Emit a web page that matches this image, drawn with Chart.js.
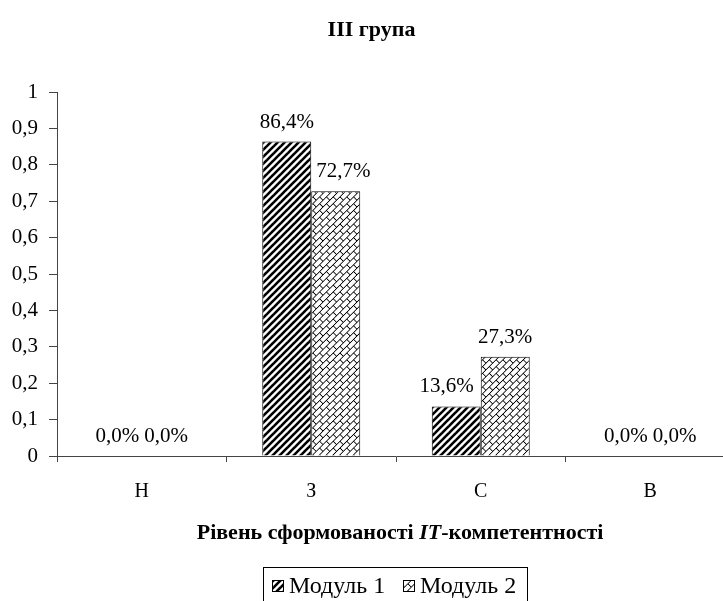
<!DOCTYPE html>
<html>
<head>
<meta charset="utf-8">
<script src="https://cdn.jsdelivr.net/npm/chart.js@4/dist/chart.umd.min.js"></script>
<style>
html,body{margin:0;padding:0;background:#fff;overflow:hidden;}
#wrap{width:723px;height:601px;overflow:hidden;position:relative;}
#c{position:absolute;left:0;top:0;}
</style>
</head>
<body>
<div id="wrap"><canvas id="c" width="745" height="601"></canvas></div>
<script>
const categories = ['Н', 'З', 'С', 'В'];
const module1 = [0.0, 0.864, 0.136, 0.0];
const module2 = [0.0, 0.727, 0.273, 0.0];
const seriesNames = ['Модуль 1', 'Модуль 2'];
const yTicks = [0, 0.1, 0.2, 0.3, 0.4, 0.5, 0.6, 0.7, 0.8, 0.9, 1];
const chartTitle = 'III група';
const axisTitleParts = [['Рівень сформованості ', 'bold'], ['IT', 'italic bold'], ['-компетентності', 'bold']];

const FONT = '"Liberation Serif", "Times New Roman", serif';

function hatchPattern(ctx) {
  const t = document.createElement('canvas');
  t.width = 7; t.height = 7;
  const g = t.getContext('2d');
  g.fillStyle = '#fff'; g.fillRect(0,0,7,7);
  g.strokeStyle = '#000'; g.lineWidth = 2.6;
  for (let k = -1; k <= 1; k++) {
    g.beginPath();
    g.moveTo(-1 + k*7, 8); g.lineTo(8 + k*7, -1);
    g.stroke();
  }
  return ctx.createPattern(t, 'repeat');
}
function brickPattern(ctx) {
  const t = document.createElement('canvas');
  t.width = 12; t.height = 12;
  const g = t.getContext('2d');
  g.fillStyle = '#fff'; g.fillRect(0,0,12,12);
  g.strokeStyle = '#000'; g.lineWidth = 1.1;
  g.beginPath();
  g.moveTo(0,0.5); g.lineTo(12,0.5);
  g.moveTo(0,6.5); g.lineTo(12,6.5);
  g.moveTo(0.5,0); g.lineTo(0.5,6.5);
  g.moveTo(6.5,6.5); g.lineTo(6.5,12);
  g.stroke();
  const p = ctx.createPattern(t, 'repeat');
  const m = new DOMMatrix();
  p.setTransform(m.rotateSelf(-45).scaleSelf(0.8,0.8));
  return p;
}

const canvas = document.getElementById('c');
const ctx = canvas.getContext('2d');
const pat1 = hatchPattern(ctx);
const pat2 = brickPattern(ctx);

const fmtPct = v => (v*100).toFixed(1).replace('.', ',') + '%';

const decor = {
  id: 'decor',
  afterDatasetsDraw(chart) {
    const c = chart.ctx;
    c.save();
    c.fillStyle = '#000';
    c.font = '21px ' + FONT;
    c.textBaseline = 'alphabetic';
    const metas = chart.data.datasets.map((ds, di) => chart.getDatasetMeta(di));
    chart.data.datasets.forEach((ds, di) => {
      metas[di].data.forEach((bar, i) => {
        const other = metas[1 - di].data[i];
        const txt = fmtPct(ds.data[i]);
        const half = bar.width / 2;
        // if the neighbouring bar is taller, push the label to the outer side of its own bar
        if (other && other.y < bar.y - 5) {
          if (di === 1) { c.textAlign = 'left'; c.fillText(txt, bar.x - half + 5, bar.y - 14); }
          else { c.textAlign = 'right'; c.fillText(txt, bar.x + half - 7, bar.y - 14); }
        } else {
          c.textAlign = 'center';
          c.fillText(txt, bar.x, bar.y - 14);
        }
      });
    });
    c.restore();
  },
  afterDraw(chart) {
    const c = chart.ctx;
    const ca = chart.chartArea;
    c.save();
    c.fillStyle = '#000';
    c.textBaseline = 'alphabetic';
    // title
    c.font = 'bold 22px ' + FONT;
    c.textAlign = 'center';
    c.fillText(chartTitle, chart.width / 2 - 1, 36);
    // axis title with mixed fonts
    c.textAlign = 'left';
    let total = 0;
    axisTitleParts.forEach(([s, f]) => { c.font = f + ' 22px ' + FONT; total += c.measureText(s).width; });
    let x = (ca.left + ca.right) / 2 + 4 - total / 2;
    axisTitleParts.forEach(([s, f]) => { c.font = f + ' 22px ' + FONT; c.fillText(s, x, 539); x += c.measureText(s).width; });
    // legend box
    c.strokeStyle = '#000';
    c.lineWidth = 1;
    c.strokeRect(263.5, 567.5, 264, 50);
    const pats = [pat1, pat2];
    const sx = [272, 403];
    c.font = '24px ' + FONT;
    seriesNames.forEach((n, i) => {
      c.fillStyle = pats[i];
      c.fillRect(sx[i], 580, 11, 11);
      c.strokeStyle = '#000';
      c.strokeRect(sx[i] + 0.5, 580.5, 11, 11);
      c.fillStyle = '#000';
      c.fillText(n, sx[i] + 17, 593);
    });
    c.restore();
  }
};

new Chart(canvas, {
  type: 'bar',
  data: {
    labels: categories,
    datasets: [
      { label: seriesNames[0], data: module1, backgroundColor: pat1, borderColor: '#000', borderWidth: 1, borderSkipped: 'bottom' },
      { label: seriesNames[1], data: module2, backgroundColor: pat2, borderColor: '#000', borderWidth: 1, borderSkipped: 'bottom' }
    ]
  },
  options: {
    responsive: false,
    animation: false,
    events: [],
    layout: { padding: { top: 92, right: 10, left: 0, bottom: 0 } },
    datasets: { bar: { barPercentage: 1, categoryPercentage: 0.578 } },
    plugins: { legend: { display: false }, title: { display: false }, tooltip: { enabled: false } },
    scales: {
      x: {
        grid: { drawOnChartArea: false, tickLength: 6, color: '#444', offset: true },
        border: { color: '#444', width: 1 },
        ticks: { font: { family: FONT, size: 20 }, color: '#000', padding: 18 },
        afterFit(s) { s.height = 601 - 456; }
      },
      y: {
        min: 0, max: 1,
        afterBuildTicks(s) { s.ticks = yTicks.map(v => ({ value: v })); },
        grid: { drawOnChartArea: false, tickLength: 8, color: '#444' },
        border: { color: '#444', width: 1 },
        ticks: {
          font: { family: FONT, size: 21 }, color: '#000', padding: 11,
          callback: v => String(Math.round(v * 10) / 10).replace('.', ',')
        },
        afterFit(s) { s.width = 57; }
      }
    }
  },
  plugins: [decor]
});
</script>
</body>
</html>
